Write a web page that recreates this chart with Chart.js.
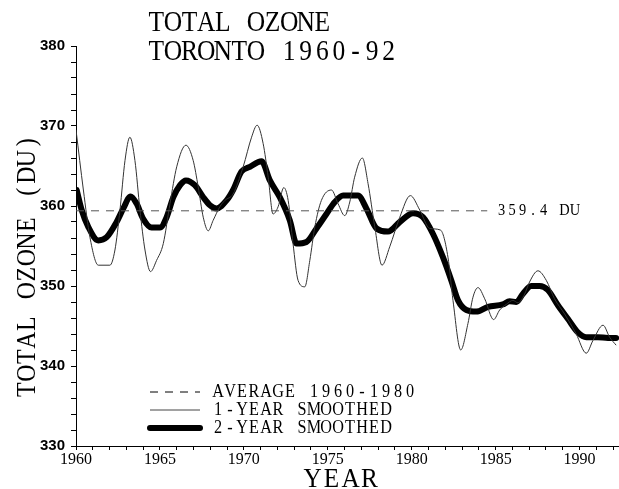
<!DOCTYPE html>
<html>
<head>
<meta charset="utf-8">
<script src="https://cdn.jsdelivr.net/npm/chart.js@4.4.1/dist/chart.umd.min.js"></script>
<style>
  html, body { margin: 0; padding: 0; background: #fff; }
  #wrap { width: 619px; height: 489px; position: relative; }
</style>
</head>
<body>
<div id="wrap"><canvas id="c" width="619" height="489"></canvas></div>
<script>
// ---- data ----
const titleLines = ["TOTAL OZONE", "TORONTO 1960-92"];
const yTitle = "TOTAL OZONE (DU)";
const xTitle = "YEAR";
const legendLabels = ["AVERAGE 1960-1980", "1-YEAR SMOOTHED", "2-YEAR SMOOTHED"];
const averageValue = 359.4;
const averageLabel = "359.4 DU";
const averageYears = [1960, 1984.5];

const thinYears = [1960.0, 1960.44, 1960.83, 1961.33, 1962.02, 1962.32, 1962.62, 1962.92, 1963.21, 1963.51, 1963.81, 1964.11, 1964.44, 1964.8, 1965.2, 1965.6, 1966.0, 1966.55, 1966.98, 1967.28, 1967.58, 1967.88, 1968.17, 1968.57, 1968.87, 1969.36, 1969.96, 1970.46, 1970.79, 1971.15, 1971.45, 1971.74, 1972.04, 1972.38, 1972.64, 1972.93, 1973.23, 1973.63, 1973.93, 1974.23, 1974.62, 1975.22, 1975.61, 1976.01, 1976.31, 1976.6, 1977.06, 1977.4, 1977.8, 1978.23, 1978.69, 1979.29, 1979.92, 1980.48, 1981.07, 1981.71, 1982.16, 1982.46, 1982.92, 1983.35, 1983.65, 1983.95, 1984.35, 1984.88, 1985.24, 1985.63, 1986.03, 1986.33, 1986.73, 1987.02, 1987.52, 1988.02, 1988.51, 1989.11, 1989.8, 1990.4, 1990.8, 1991.4, 1991.79, 1992.18];
const thinValues = [369.5, 362.0, 356.1, 352.6, 352.6, 354.5, 359.5, 365.7, 368.6, 365.7, 359.5, 354.5, 351.8, 353.2, 355.3, 360.3, 364.9, 367.6, 365.7, 362.4, 358.6, 356.9, 358.2, 359.9, 360.7, 361.5, 364.9, 368.6, 370.1, 367.8, 363.6, 359.0, 359.9, 362.3, 360.7, 355.3, 350.7, 349.9, 353.2, 357.4, 360.7, 362.0, 360.3, 358.8, 360.5, 363.6, 366.0, 362.8, 357.4, 352.6, 354.9, 358.6, 361.3, 359.5, 357.2, 357.0, 353.6, 348.2, 342.0, 345.3, 348.6, 349.8, 348.4, 345.8, 347.0, 347.7, 348.2, 347.9, 349.0, 350.5, 351.9, 350.7, 348.4, 346.5, 344.0, 341.6, 343.2, 345.1, 343.6, 342.6];

const thickYears = [1960.04, 1960.34, 1960.73, 1961.33, 1961.83, 1962.42, 1962.82, 1963.25, 1963.61, 1964.0, 1964.5, 1965.0, 1965.4, 1965.8, 1966.2, 1966.55, 1967.08, 1967.58, 1967.98, 1968.37, 1968.97, 1969.36, 1969.86, 1970.36, 1971.05, 1971.55, 1972.14, 1972.74, 1973.14, 1973.73, 1974.33, 1974.92, 1975.42, 1975.91, 1976.31, 1976.8, 1977.3, 1977.9, 1978.59, 1979.29, 1980.08, 1980.67, 1981.27, 1981.86, 1982.36, 1982.76, 1983.26, 1983.85, 1984.54, 1985.43, 1985.83, 1986.23, 1986.62, 1987.12, 1987.62, 1988.11, 1988.71, 1989.3, 1989.9, 1990.4, 1991.09, 1991.69, 1992.18];
const thickValues = [362.0, 359.5, 357.4, 355.7, 356.1, 358.0, 359.7, 361.2, 360.3, 358.4, 357.3, 357.3, 358.6, 361.1, 362.6, 363.2, 362.6, 361.1, 360.1, 359.7, 360.7, 362.0, 364.3, 364.9, 365.6, 363.2, 361.1, 358.2, 355.3, 355.5, 357.2, 359.0, 360.5, 361.3, 361.3, 361.3, 359.7, 357.2, 356.8, 358.0, 359.1, 358.6, 356.5, 353.6, 350.7, 348.2, 347.0, 346.8, 347.4, 347.7, 348.1, 348.0, 349.0, 350.0, 350.0, 349.5, 347.6, 345.9, 344.2, 343.6, 343.6, 343.5, 343.5];

const xTickLabels = [1960, 1965, 1970, 1975, 1980, 1985, 1990];
const yTickLabels = [330, 340, 350, 360, 370, 380];

// ---- build chart ----
const toPts = (xs, ys) => xs.map((x, i) => ({x: x, y: ys[i]}));
const serif = '"Liberation Serif", "DejaVu Serif", serif';
const sans = '"Liberation Sans", Arial, sans-serif';

// fixed-pitch text (plotter-style lettering), left edge at x, vertical middle at y
function drawMono(ctx, text, x, y, pitch, size, sx) {
  ctx.save();
  ctx.font = size + 'px ' + serif;
  ctx.textAlign = 'center';
  ctx.textBaseline = 'middle';
  for (let i = 0; i < text.length; i++) {
    const ch = text[i];
    if (ch === ' ') continue;
    ctx.save();
    ctx.translate(x + pitch * (i + 0.5), y);
    ctx.scale(sx, 1);
    ctx.fillText(ch, 0, 0);
    ctx.restore();
  }
  ctx.restore();
}

const textPlugin = {
  id: 'texts',
  afterDraw(chart) {
    const ctx = chart.ctx;
    const xs = chart.scales.x, ys = chart.scales.y;
    ctx.save();
    ctx.fillStyle = '#000';
    // title
    drawMono(ctx, titleLines[0], 148, 23, 16.6, 30, 0.85);
    drawMono(ctx, titleLines[1], 148, 52, 16.6, 30, 0.85);
    // y title (rotated)
    ctx.save();
    ctx.translate(28, 266);
    ctx.rotate(-Math.PI / 2);
    drawMono(ctx, yTitle, -yTitle.length * 16.5 / 2, 0, 16.5, 28, 0.85);
    ctx.restore();
    // x title
    drawMono(ctx, xTitle, 341 - xTitle.length * 19 / 2, 480, 19, 28, 0.9);
    // average label
    drawMono(ctx, averageLabel, xs.getPixelForValue(averageYears[1]) + 9, ys.getPixelForValue(averageValue), 10.5, 16, 0.9);
    // legend
    const lx0 = 150, lx1 = 200, tx = 212;
    const rows = [392, 410, 428];
    legendLabels.forEach((lab, i) => drawMono(ctx, lab, tx, rows[i], 12, 18, 0.9));
    ctx.strokeStyle = '#000';
    ctx.lineCap = 'butt';
    ctx.setLineDash([8, 7]);
    ctx.lineWidth = 1;
    ctx.beginPath(); ctx.moveTo(lx0, rows[0]); ctx.lineTo(lx1, rows[0]); ctx.stroke();
    ctx.setLineDash([]);
    ctx.strokeStyle = '#444';
    ctx.beginPath(); ctx.moveTo(lx0, rows[1]); ctx.lineTo(lx1, rows[1]); ctx.stroke();
    ctx.strokeStyle = '#000';
    ctx.lineWidth = 6;
    ctx.lineCap = 'round';
    ctx.beginPath(); ctx.moveTo(lx0, rows[2]); ctx.lineTo(lx1, rows[2]); ctx.stroke();
    ctx.restore();
  }
};

new Chart(document.getElementById('c'), {
  type: 'line',
  data: {
    datasets: [
      {
        label: legendLabels[0],
        data: toPts(averageYears, averageYears.map(() => averageValue)),
        borderColor: '#555', borderWidth: 1, borderDash: [8, 7],
        pointRadius: 0, tension: 0
      },
      {
        label: legendLabels[1],
        data: toPts(thinYears, thinValues),
        borderColor: '#333', borderWidth: 1,
        pointRadius: 0, cubicInterpolationMode: 'monotone'
      },
      {
        label: legendLabels[2],
        data: toPts(thickYears, thickValues),
        borderColor: '#000', borderWidth: 6, borderCapStyle: 'round', borderJoinStyle: 'round',
        pointRadius: 0, cubicInterpolationMode: 'monotone'
      }
    ]
  },
  options: {
    responsive: false,
    animation: false,
    devicePixelRatio: 1,
    layout: { padding: { top: 46, right: 0, bottom: 0, left: 0 } },
    plugins: { legend: { display: false }, tooltip: { enabled: false }, title: { display: false } },
    scales: {
      x: {
        type: 'linear', min: 1960, max: 1992.35,
        afterFit(s) { s.height = 43; },
        afterBuildTicks(s) { const t = []; for (let y = 1960; y <= 1992; y++) t.push({value: y}); s.ticks = t; },
        ticks: {
          autoSkip: false, maxRotation: 0, color: '#000', padding: 0,
          font: { family: serif, size: 16 },
          callback: v => xTickLabels.includes(v) ? String(v) : ''
        },
        grid: { drawOnChartArea: false, color: '#000', tickLength: 4, tickWidth: 1 },
        border: { color: '#000', width: 1 }
      },
      y: {
        type: 'linear', min: 330, max: 380,
        afterFit(s) { s.width = 76; },
        afterBuildTicks(s) { const t = []; for (let v = 330; v <= 380; v += 2) t.push({value: v}); s.ticks = t; },
        ticks: {
          autoSkip: false, color: '#000', padding: 6,
          font: { family: sans, size: 15, weight: 'bold' },
          callback: v => yTickLabels.includes(v) ? String(v) : ''
        },
        grid: { drawOnChartArea: false, color: '#000', tickLength: 5, tickWidth: 1 },
        border: { color: '#000', width: 1 }
      }
    }
  },
  plugins: [textPlugin]
});
</script>
</body>
</html>
